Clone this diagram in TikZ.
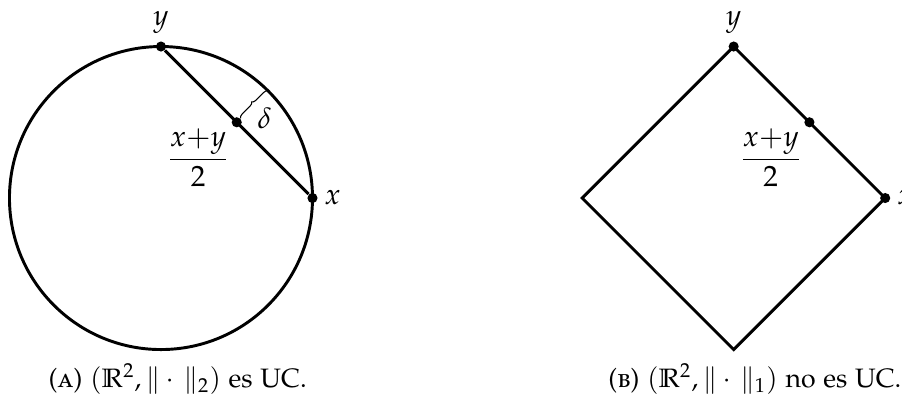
\documentclass[tikz,border=0pt]{standalone}
\usepackage[T1]{fontenc}
\usepackage[sc]{mathpazo}
\usetikzlibrary{positioning, decorations.pathreplacing}

\begin{document}
\begin{tikzpicture}[
    font=\fontsize{11}{13}\selectfont,
    curve/.style={line width=1.1pt},
    dot/.style={circle, fill, inner sep=0pt, minimum size=3.8pt},
    lbl/.style={inner sep=1pt},
    brc/.style={decorate, decoration={brace, amplitude=1.5pt}, line width=0.4pt},
    subcap/.style={anchor=base, font=\fontsize{10}{12}\selectfont},
]
\useasboundingbox (-2.125,-2.614) rectangle (9.782,2.614);

% (A) euclidean ball
\draw[curve] (0,0) circle (2cm);
\node[dot] (ya) at (0,2) {};
\node[dot] (xa) at (2,0) {};
\node[dot] (ma) at (1,1) {};
\coordinate (pa) at (45:2);
\draw[curve] (ya) -- (xa);
\node[lbl, above=1.5pt of ya] (lya) {$y$};
\node[lbl, right=1.2pt of xa] (lxa) {$x$};
\node (fa) at (0.49,0.53) {$\displaystyle\frac{x{+}y}{2}$};
\draw[brc] (ma) -- (pa) node[lbl, midway, below right] (da) {$\delta$};
\node[subcap] (capa) at (0.22,-2.5) {(\textsc{a}) $(\mathbb{R}^2,\|\cdot\,\|_2)$ es UC.};

% (B) l1 ball
\begin{scope}[xshift=7.56cm]
\draw[curve] (2,0) -- (0,2) -- (-2,0) -- (0,-2) -- cycle;
\node[dot] (yb) at (0,2) {};
\node[dot] (xb) at (2,0) {};
\node[dot] (mb) at (1,1) {};
\node[lbl, above=1.5pt of yb] (lyb) {$y$};
\node[lbl, right=1.2pt of xb] (lxb) {$x$};
\node (fb) at (0.49,0.53) {$\displaystyle\frac{x{+}y}{2}$};
\node[subcap] (capb) at (0.28,-2.5) {(\textsc{b}) $(\mathbb{R}^2,\|\cdot\,\|_1)$ no es UC.};
\end{scope}

\end{tikzpicture}
\end{document}
